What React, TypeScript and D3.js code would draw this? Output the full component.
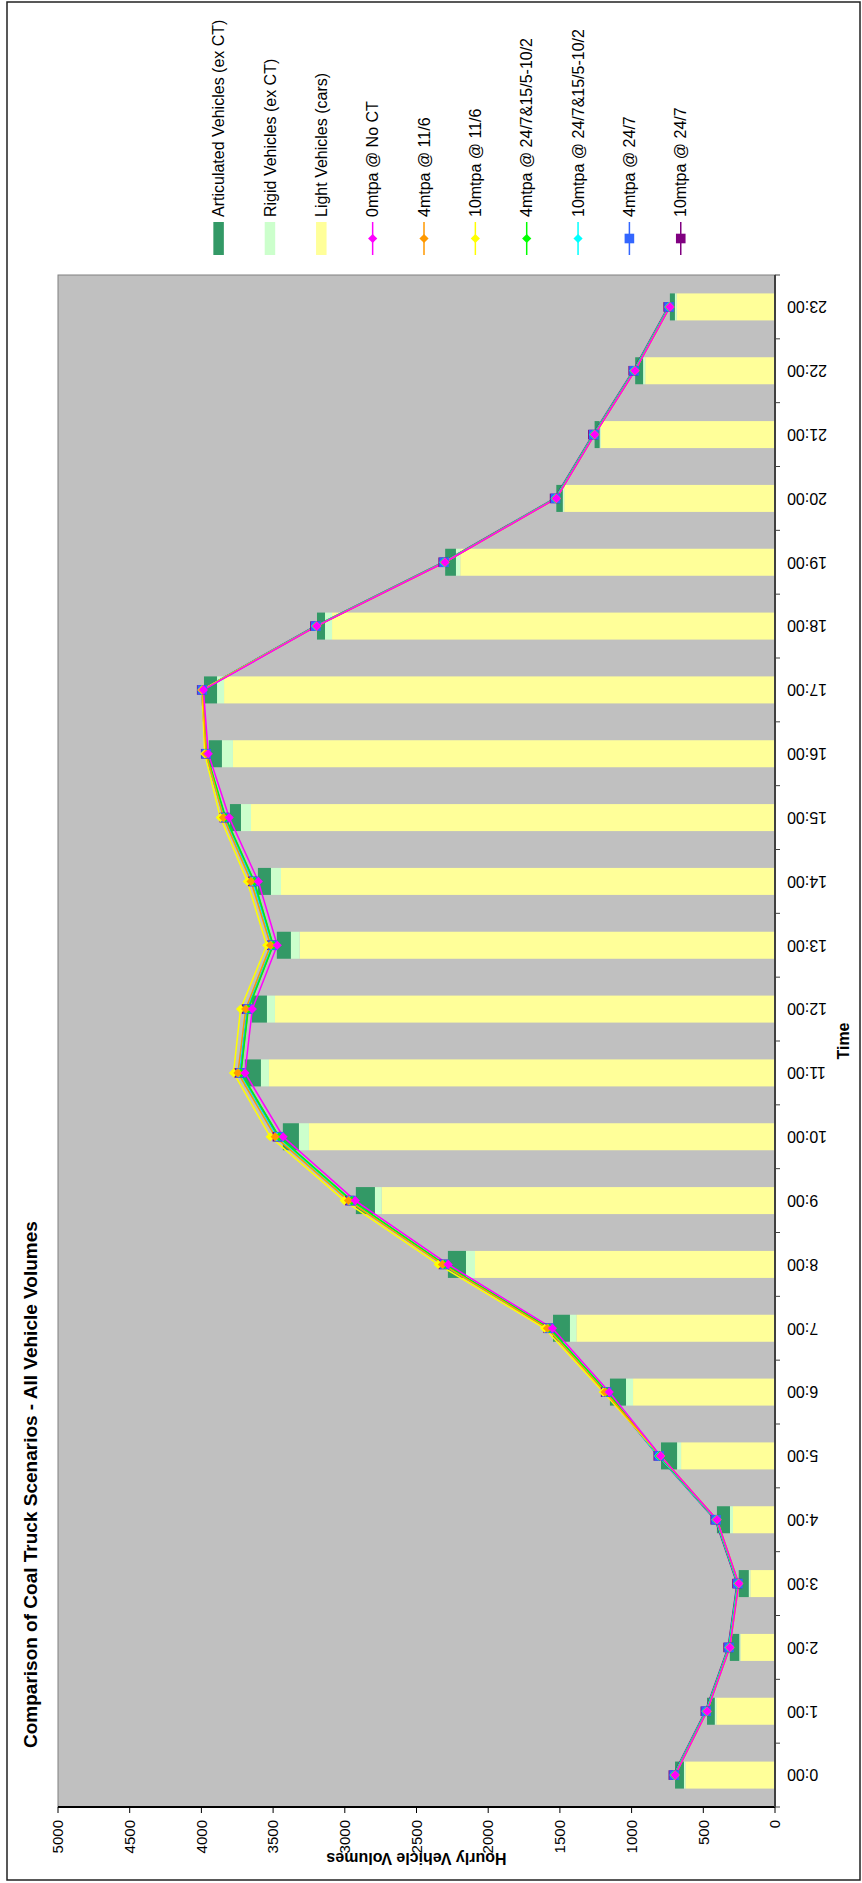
import React from "react";
import * as d3 from "d3";

const hours = ["0:00","1:00","2:00","3:00","4:00","5:00","6:00","7:00","8:00","9:00","10:00","11:00","12:00","13:00","14:00","15:00","16:00","17:00","18:00","19:00","20:00","21:00","22:00","23:00"];

const lightVehicles = [625, 409, 241, 172, 293, 655, 990, 1385, 2092, 2743, 3250, 3529, 3487, 3315, 3445, 3654, 3780, 3842, 3089, 2195, 1470, 1215, 905, 686];
const rigidVehicles = [10, 11, 8, 11, 21, 28, 49, 45, 63, 47, 70, 56, 56, 61, 70, 70, 77, 49, 49, 30, 10, 8, 15, 12];
const articulatedVehicles = [62, 54, 66, 70, 91, 112, 112, 118, 126, 133, 112, 112, 106, 98, 91, 77, 91, 91, 56, 75, 45, 35, 55, 35];

const s0NoCT = [697, 474, 315, 253, 405, 798, 1156, 1552, 2279, 2927, 3430, 3696, 3645, 3471, 3603, 3806, 3952, 3986, 3196, 2302, 1525, 1258, 977, 733];
const s4_116 = [697, 474, 315, 253, 405, 798, 1185, 1587, 2319, 2974, 3485, 3745, 3691, 3517, 3654, 3846, 3967, 3992, 3196, 2302, 1525, 1258, 977, 733];
const s10_116 = [697, 474, 315, 253, 405, 798, 1198, 1607, 2349, 3004, 3520, 3776, 3727, 3545, 3680, 3868, 3977, 3996, 3196, 2302, 1525, 1258, 977, 733];
const s4_mixed = [701, 478, 319, 257, 409, 806, 1171, 1572, 2304, 2952, 3458, 3724, 3673, 3499, 3631, 3831, 3964, 3992, 3200, 2306, 1529, 1262, 981, 737];
const s10_mixed = [705, 482, 323, 261, 413, 812, 1181, 1584, 2317, 2967, 3475, 3738, 3687, 3511, 3645, 3844, 3970, 3996, 3204, 2310, 1533, 1266, 985, 741];
const s4_247 = [703, 480, 321, 259, 411, 808, 1174, 1574, 2305, 2955, 3460, 3726, 3675, 3501, 3633, 3834, 3967, 3994, 3202, 2308, 1531, 1264, 983, 739];
const s10_247 = [709, 486, 327, 265, 417, 814, 1181, 1582, 2314, 2965, 3470, 3736, 3685, 3509, 3643, 3841, 3970, 3998, 3208, 2314, 1537, 1270, 989, 745];

const barSeries = [
  { name: "Articulated Vehicles (ex CT)", color: "#339966" },
  { name: "Rigid Vehicles (ex CT)", color: "#CCFFCC" },
  { name: "Light Vehicles (cars)", color: "#FFFF99" },
];

const lineSeries = [
  { name: "0mtpa @ No CT", color: "#FF00FF", marker: "diamond", values: s0NoCT },
  { name: "4mtpa @ 11/6", color: "#FF9900", marker: "diamond", values: s4_116 },
  { name: "10mtpa @ 11/6", color: "#FFFF00", marker: "diamond", values: s10_116 },
  { name: "4mtpa @ 24/7&15/5-10/2", color: "#00FF00", marker: "diamond", values: s4_mixed },
  { name: "10mtpa @ 24/7&15/5-10/2", color: "#00FFFF", marker: "diamond", values: s10_mixed },
  { name: "4mtpa @ 24/7", color: "#3366FF", marker: "square", values: s4_247 },
  { name: "10mtpa @ 24/7", color: "#800080", marker: "square", values: s10_247 },
];

const FONT = "'Liberation Sans', Arial, sans-serif";

function Marker({ type, cx, cy, color }: { type: string; cx: number; cy: number; color: string }) {
  if (type === "square") {
    return <rect x={cx - 4.8} y={cy - 4.8} width={9.6} height={9.6} fill={color} />;
  }
  const r = 4.6;
  return <path d={`M${cx},${cy - r}L${cx + r},${cy}L${cx},${cy + r}L${cx - r},${cy}Z`} fill={color} />;
}

export default function App() {
  // Landscape frame (1883 x 862), rotated -90deg onto the 862 x 1883 page
  const plotL = 76, plotR = 1608, plotT = 58, plotB = 775;
  const x = d3.scaleBand<string>().domain(hours).range([plotL, plotR]).paddingInner(0.577).paddingOuter(0.2885);
  const y = d3.scaleLinear().domain([0, 5000]).range([plotB, plotT]);
  const step = (plotR - plotL) / hours.length;
  const cx = (h: string) => (x(h) as number) + x.bandwidth() / 2;

  const stacks = hours.map((h, i) => {
    const a = lightVehicles[i];
    const b = a + rigidVehicles[i];
    const c = b + articulatedVehicles[i];
    return [
      { y0: 0, y1: a, color: "#FFFF99" },
      { y0: a, y1: b, color: "#CCFFCC" },
      { y0: b, y1: c, color: "#339966" },
    ];
  });

  const line = d3.line<number>().x((_, i) => cx(hours[i])).y((d) => y(d));
  const drawOrder = [...lineSeries].reverse();

  const legendItems = [
    ...barSeries.map((b) => ({ ...b, kind: "bar", marker: "" })),
    ...lineSeries.map((l) => ({ name: l.name, color: l.color, kind: "line", marker: l.marker })),
  ];
  const legendV0 = 218.6, legendStep = 51.35, legendU0 = 1628, legendU1 = 1661;

  return (
    <svg width={862} height={1883} style={{ position: "absolute", left: 0, top: 0, display: "block" }} fontFamily={FONT}>
      <rect x={0} y={0} width={862} height={1883} fill="#FFFFFF" />
      <g transform="translate(0,1883) rotate(-90)">
        {/* chart border */}
        <rect x={3} y={7} width={1878} height={853} fill="none" stroke="#222" strokeWidth={1.5} />
        {/* title */}
        <text x={135} y={30} dy="0.35em" fontSize={19} fontWeight="bold" fill="#000">
          Comparison of Coal Truck Scenarios - All Vehicle Volumes
        </text>
        {/* plot area */}
        <rect x={plotL} y={plotT} width={plotR - plotL} height={plotB - plotT} fill="#C0C0C0" stroke="#808080" strokeWidth={1} />
        {/* bars */}
        {stacks.map((st, i) =>
          st.map((s, j) => (
            <rect key={`${i}-${j}`} x={x(hours[i]) as number} width={x.bandwidth()} y={y(s.y1)} height={y(s.y0) - y(s.y1)} fill={s.color} />
          ))
        )}
        {/* lines */}
        {drawOrder.map((s) => (
          <path key={s.name} d={line(s.values) || ""} fill="none" stroke={s.color} strokeWidth={1.5} />
        ))}
        {drawOrder.map((s) =>
          s.values.map((v, i) => <Marker key={s.name + i} type={s.marker} cx={cx(hours[i])} cy={y(v)} color={s.color} />)
        )}
        {/* value axis */}
        <line x1={plotL} x2={plotL} y1={plotT} y2={plotB} stroke="#000" strokeWidth={2} />
        {y.ticks(10).map((t) => (
          <g key={t}>
            <line x1={plotL - 6} x2={plotL} y1={y(t)} y2={y(t)} stroke="#000" strokeWidth={1} />
            <text x={plotL - 13} y={y(t)} dy="0.35em" textAnchor="end" fontSize={15} fill="#000">
              {t}
            </text>
          </g>
        ))}
        <text transform={`translate(24,${(plotT + plotB) / 2}) rotate(-90)`} dy="0.35em" textAnchor="middle" fontSize={16} fontWeight="bold" fill="#000">
          Hourly Vehicle Volumes
        </text>
        {/* category axis */}
        <line x1={plotL} x2={plotR} y1={plotB} y2={plotB} stroke="#404040" strokeWidth={2} />
        {d3.range(hours.length + 1).map((k) => (
          <line key={k} x1={plotL + k * step} x2={plotL + k * step} y1={plotB} y2={plotB + 5} stroke="#404040" strokeWidth={1} />
        ))}
        {hours.map((h) => (
          <text key={h} transform={`translate(${cx(h)},${plotB + 12}) rotate(-90)`} dy="0.35em" textAnchor="end" fontSize={16} fill="#000">
            {h}
          </text>
        ))}
        <text x={(plotL + plotR) / 2} y={843} dy="0.35em" textAnchor="middle" fontSize={16} fontWeight="bold" fill="#000">
          Time
        </text>
        {/* legend */}
        {legendItems.map((it, i) => {
          const v = legendV0 + i * legendStep;
          return (
            <g key={it.name}>
              {it.kind === "bar" ? (
                <rect x={legendU0} y={v - 5.25} width={legendU1 - legendU0} height={10.5} fill={it.color} />
              ) : (
                <g>
                  <line x1={legendU0} x2={legendU1} y1={v} y2={v} stroke={it.color} strokeWidth={1.5} />
                  <Marker type={it.marker} cx={(legendU0 + legendU1) / 2} cy={v} color={it.color} />
                </g>
              )}
              <text x={1666} y={v} dy="0.35em" fontSize={16} fill="#000">
                {it.name}
              </text>
            </g>
          );
        })}
      </g>
    </svg>
  );
}
